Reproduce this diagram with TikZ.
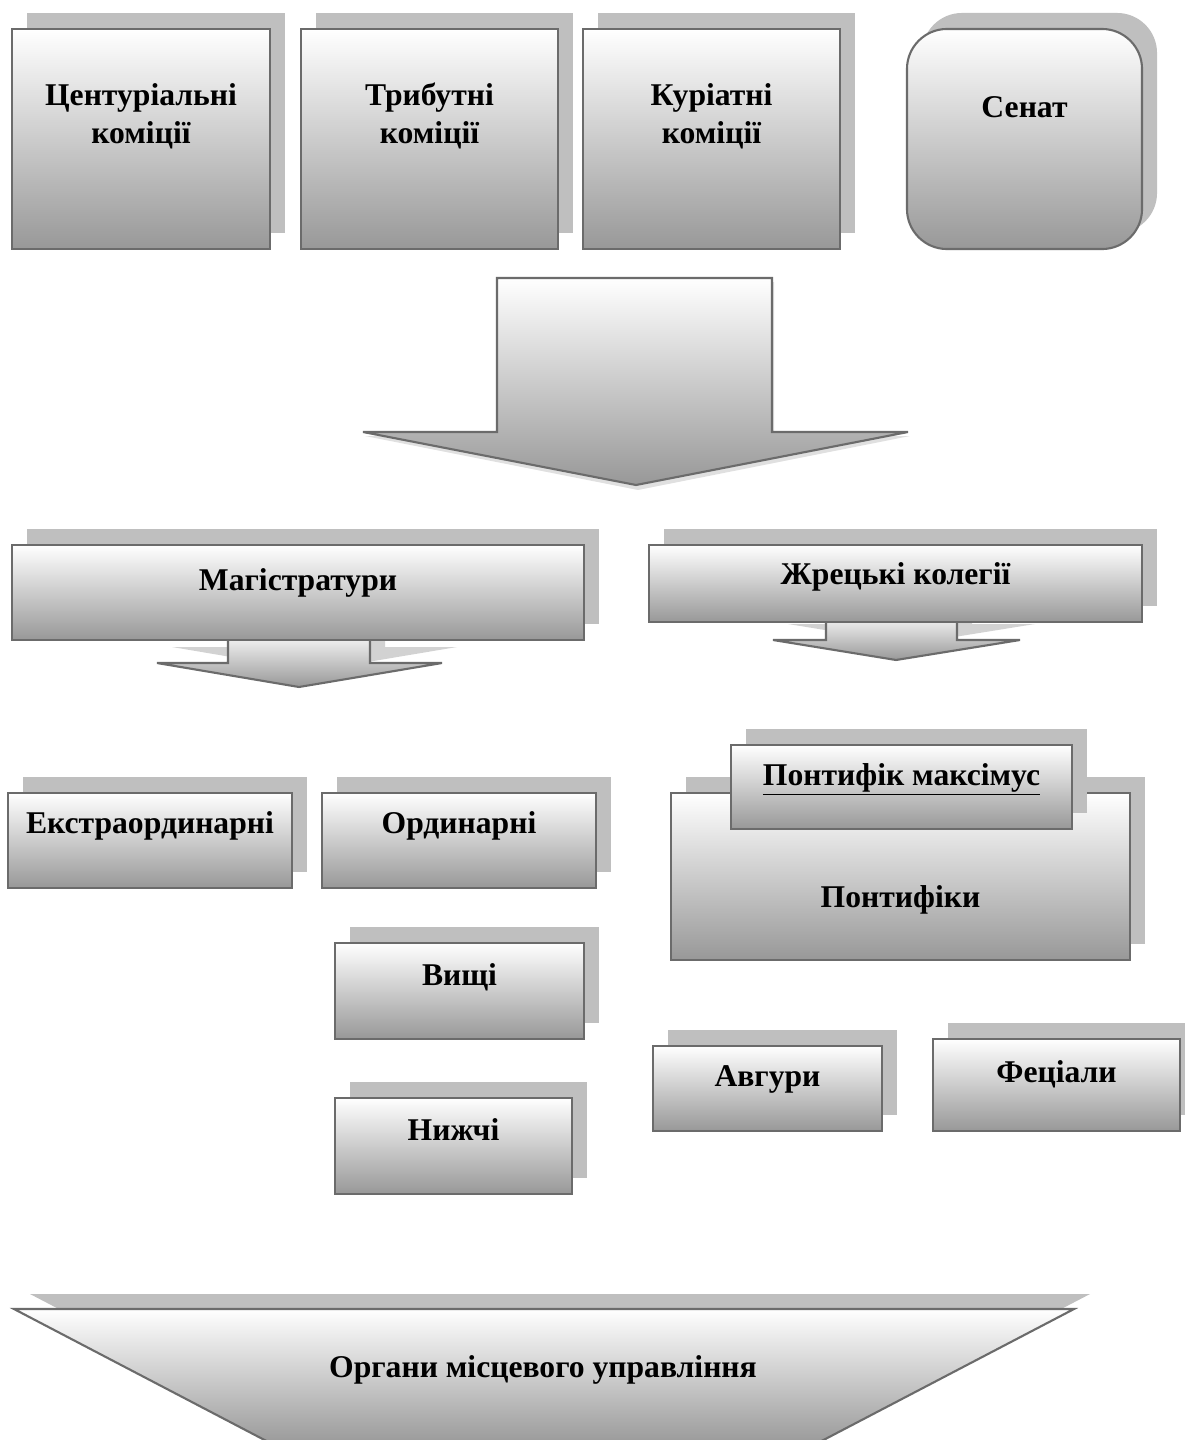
\documentclass[tikz,border=0pt]{standalone}
\usepackage{fontspec}
\setmainfont{Liberation Serif}
\usetikzlibrary{shadows,positioning}
\definecolor{edge}{HTML}{6B6B6B}
\definecolor{shadowgray}{HTML}{BFBFBF}
\definecolor{fade}{HTML}{989898}

\tikzset{
  panel/.style={draw=edge,line width=1.5pt,top color=white,bottom color=fade,inner sep=0pt,
    general shadow={fill=shadowgray,shadow xshift=0.375cm,shadow yshift=0.4cm}},
  caption/.style={font=\bfseries\fontsize{22.5}{26.5}\selectfont,align=center,inner sep=0pt,anchor=base},
  blockarrow/.style={draw=edge,line width=1.5pt,top color=white,bottom color=fade,line join=miter},
}

\begin{document}
\begin{tikzpicture}[x=0.025cm,y=-0.025cm]
\useasboundingbox (0,0) rectangle (1184,1440);

% top row
\node[panel,minimum width=6.45cm,minimum height=5.5cm] (cent) at (141,139) {};
\node[panel,minimum width=6.425cm,minimum height=5.5cm] (trib) at (429.5,139) {};
\node[panel,minimum width=6.425cm,minimum height=5.5cm] (kur) at (711.5,139) {};
\node[panel,rounded corners=1cm,minimum width=5.875cm,minimum height=5.5cm] (sen) at (1024.5,139) {};
\node[caption] (centt) at (141,143) {Центуріальні\\коміції};
\node[caption] (tribt) at (429.5,143) {Трибутні\\коміції};
\node[caption] (kurt) at (711.5,143) {Куріатні\\коміції};
\node[caption] (sent) at (1024.5,117) {Сенат};

% big arrow
\fill[black!12] (499,282) -- (774,282) -- (774,436) -- (910,436) -- (638,490) -- (365,436) -- (499,436) -- cycle;
\draw[blockarrow] (497,278) -- (772,278) -- (772,432) -- (908,432) -- (636,485) -- (363,432) -- (497,432) -- cycle;

% magistratures
\fill[shadowgray!70] (243,624) -- (385,624) -- (385,647) -- (457,647) -- (314,671) -- (172,647) -- (243,647) -- cycle;
\draw[blockarrow] (228,630) -- (370,630) -- (370,663) -- (442,663) -- (299,687) -- (157,663) -- (228,663) -- cycle;
\node[panel,minimum width=14.3cm,minimum height=2.375cm] (mag) at (298,592.5) {};
\node[caption] (magt) at (298,590) {Магістратури};

% priestly colleges
\fill[shadowgray!70] (841,606) -- (972,606) -- (972,624) -- (1035,624) -- (911,644) -- (788,624) -- (841,624) -- cycle;
\draw[blockarrow] (826,612) -- (957,612) -- (957,640) -- (1020,640) -- (896,660) -- (773,640) -- (826,640) -- cycle;
\node[panel,minimum width=12.325cm,minimum height=1.925cm] (zhr) at (895.5,583.5) {};
\node[caption] (zhrt) at (895.5,584) {Жрецькі колегії};

% magistratures, kinds
\node[panel,minimum width=7.1cm,minimum height=2.375cm] (ext) at (150,840.5) {};
\node[caption] (extt) at (150,833) {Екстраординарні};
\node[panel,minimum width=6.85cm,minimum height=2.375cm] (ord) at (459,840.5) {};
\node[caption] (ordt) at (459,833) {Ординарні};
\node[panel,minimum width=6.225cm,minimum height=2.4cm] (vys) at (459.5,991) {};
\node[caption] (vyst) at (459.5,985) {Вищі};
\node[panel,minimum width=5.925cm,minimum height=2.4cm] (nyz) at (453.5,1146) {};
\node[caption] (nyzt) at (453.5,1140) {Нижчі};

% pontifices
\node[panel,minimum width=11.475cm,minimum height=4.175cm] (pont) at (900.5,876.5) {};
\node[caption] (pontt) at (900.5,907) {Понтифіки};
\node[panel,minimum width=8.525cm,minimum height=2.1cm] (pmax) at (901.5,787) {};
\node[caption] (pmaxt) at (901.5,785) {\underline{Понтифік максімус}};
\node[panel,minimum width=5.725cm,minimum height=2.125cm] (avg) at (767.5,1088.5) {};
\node[caption] (avgt) at (767.5,1086) {Авгури};
\node[panel,minimum width=6.175cm,minimum height=2.3cm] (fec) at (1056.5,1085) {};
\node[caption] (fect) at (1056.5,1082) {Феціали};

% local government
\begin{scope}
\clip (0,0) rectangle (1184,1440);
\fill[shadowgray] (30,1294) -- (1090,1294) -- (839,1425) -- (281,1425) -- cycle;
\draw[blockarrow] (14,1309) -- (1074,1309) -- (812,1446) -- (276,1446) -- cycle;
\end{scope}
\node[caption] (loc) at (543,1377) {Органи місцевого управління};
\end{tikzpicture}
\end{document}
